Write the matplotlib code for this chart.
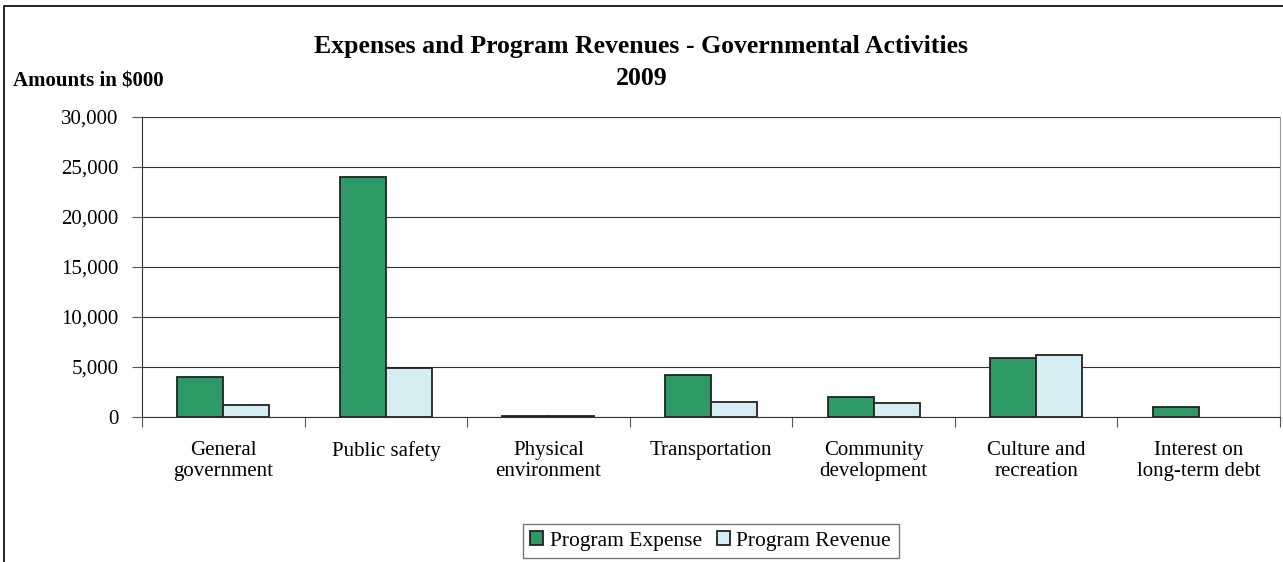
import numpy as np
import matplotlib
matplotlib.use("Agg")
import matplotlib.pyplot as plt
from matplotlib.patches import Rectangle

# categories and values (in $000)
categories = ["General\ngovernment", "Public safety", "Physical\nenvironment",
              "Transportation", "Community\ndevelopment", "Culture and\nrecreation",
              "Interest on\nlong-term debt"]
expense = [4000, 24000, 150, 4200, 2000, 5900, 1000]
revenue = [1150, 4850, 120, 1500, 1350, 6200, 0]
yticks = [0, 5000, 10000, 15000, 20000, 25000, 30000]

plt.rcParams['font.family'] = ['Liberation Serif', 'DejaVu Serif']

fig = plt.figure(figsize=(12.83, 5.62), dpi=100)
ax = fig.add_axes([0.1107, 0.258, 0.887, 0.534])

x = np.arange(len(categories))
w = 0.283
b1 = ax.bar(x - w / 2, expense, w, color='#2E9A66', edgecolor='#222222', linewidth=1.3,
            label='Program Expense', zorder=3)
b2 = ax.bar(x + w / 2, revenue, w, color='#D5EDF3', edgecolor='#222222', linewidth=1.3,
            label='Program Revenue', zorder=3)
# zero values draw no bar
for bars, vals in ((b1, expense), (b2, revenue)):
    for r, v in zip(bars, vals):
        if v == 0:
            r.set_visible(False)

ax.set_xlim(-0.5, len(categories) - 0.5)
ax.set_ylim(0, 30000)
ax.set_yticks(yticks)
ax.set_yticklabels([f"{v:,}" for v in yticks], fontsize=15)
ax.yaxis.grid(True, color='#333333', linewidth=0.8, zorder=0)

# category boundaries as ticks, labels centered
ax.set_xticks(np.arange(len(categories) + 1) - 0.5)
ax.set_xticklabels([])
ax.set_xticks(x, minor=True)
ax.set_xticklabels(categories, minor=True, fontsize=15, linespacing=1.2)
ax.tick_params(axis='x', which='minor', length=0, pad=17)
ax.tick_params(axis='x', which='major', length=7, color='#555555')
ax.tick_params(axis='y', length=7, color='#555555', pad=10)

ax.spines['top'].set_visible(False)
ax.spines['right'].set_color('#999999')
ax.spines['left'].set_color('#333333')
ax.spines['bottom'].set_color('#333333')

fig.text(0.5, 0.918, "Expenses and Program Revenues - Governmental Activities",
         ha='center', va='center', fontsize=18.5, fontweight='bold')
fig.text(0.5, 0.86, "2009", ha='center', va='center', fontsize=18.5, fontweight='bold')
fig.text(0.01, 0.855, "Amounts in $000", ha='left', va='center', fontsize=15, fontweight='bold')

leg = fig.legend(handles=[b1, b2], loc='center', bbox_to_anchor=(0.554, 0.037), ncol=2,
                 fontsize=15.5, frameon=True, fancybox=False, edgecolor='#555555',
                 handlelength=0.6, handleheight=0.6, handletextpad=0.3, columnspacing=0.7,
                 borderpad=0.35)

# outer frame
fig.patches.append(Rectangle((0.003, -0.01), 1.2, 1.0, transform=fig.transFigure,
                             fill=False, edgecolor='#111111', linewidth=1.3))

fig.savefig("out.png", dpi=100)
